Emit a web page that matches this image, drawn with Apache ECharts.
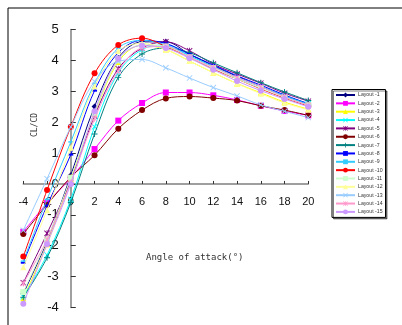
<!DOCTYPE html>
<html>
<head>
<meta charset="utf-8">
<script src="https://cdn.jsdelivr.net/npm/echarts@6/dist/echarts.min.js"></script>
<style>html,body{margin:0;padding:0;background:#fff;}#c{width:402px;height:325px;}</style>
</head>
<body>
<div id="c"></div>
<script>
var angles = [-4, -2, 0, 2, 4, 6, 8, 10, 12, 14, 16, 18, 20];
var seriesNames = ['Layout -1','Layout -2','Layout -3','Layout -4','Layout -5','Layout -6','Layout -7','Layout -8','Layout -9','Layout -10','Layout -11','Layout -12','Layout -13','Layout -14','Layout -15'];
var layout1  = [-3.55, -1.85, 0.28, 2.51, 4.08, 4.60, 4.60, 4.20, 3.82, 3.48, 3.15, 2.85, 2.58];
var layout2  = [-1.55, -0.62, 0.19, 1.13, 2.05, 2.62, 2.96, 2.96, 2.87, 2.72, 2.53, 2.36, 2.22];
var layout3  = [-3.70, -1.95, 0.15, 2.27, 3.95, 4.50, 4.35, 3.98, 3.60, 3.25, 2.95, 2.65, 2.42];
var layout4  = [-3.65, -2.30, -0.50, 1.85, 3.60, 4.35, 4.50, 4.15, 3.80, 3.45, 3.15, 2.85, 2.60];
var layout5  = [-3.20, -1.60, 0.10, 2.20, 3.73, 4.40, 4.60, 4.31, 3.88, 3.56, 3.26, 2.94, 2.68];
var layout6  = [-1.62, -0.67, 0.22, 0.93, 1.79, 2.39, 2.77, 2.83, 2.78, 2.70, 2.53, 2.39, 2.22];
var layout7  = [-3.67, -2.39, -0.60, 1.62, 3.45, 4.21, 4.40, 4.25, 3.92, 3.60, 3.28, 2.98, 2.70];
var layout8  = [-2.55, -0.70, 0.95, 3.02, 4.25, 4.65, 4.55, 4.20, 3.85, 3.50, 3.20, 2.88, 2.60];
var layout9  = [-2.50, -0.50, 1.36, 3.25, 4.40, 4.65, 4.50, 4.15, 3.80, 3.45, 3.15, 2.85, 2.58];
var layout10 = [-2.35, -0.20, 1.85, 3.58, 4.50, 4.72, 4.45, 4.10, 3.72, 3.40, 3.08, 2.78, 2.52];
var layout11 = [-3.50, -1.80, 0.20, 2.30, 4.00, 4.50, 4.45, 4.10, 3.75, 3.40, 3.10, 2.80, 2.55];
var layout12 = [-2.70, -0.85, 1.17, 3.16, 4.30, 4.55, 4.35, 3.98, 3.60, 3.25, 2.92, 2.62, 2.40];
var layout13 = [-1.50, 0.17, 1.85, 3.32, 3.97, 4.03, 3.76, 3.43, 3.12, 2.85, 2.56, 2.35, 2.15];
var layout14 = [-3.22, -1.80, 0.05, 2.11, 3.65, 4.40, 4.45, 4.10, 3.78, 3.45, 3.15, 2.82, 2.55];
var layout15 = [-3.88, -1.95, 0.00, 2.35, 4.05, 4.48, 4.40, 4.07, 3.70, 3.33, 3.02, 2.75, 2.50];
var xTickLabels = ['-4','-2','0','2','4','6','8','10','12','14','16','18','20'];
var yTickLabels = ['-4','-3','-2','-1','0','1','2','3','4','5'];

var allValues = [layout1,layout2,layout3,layout4,layout5,layout6,layout7,layout8,layout9,layout10,layout11,layout12,layout13,layout14,layout15];
var colors = ['#000080','#FF00FF','#FFFF00','#00FFFF','#800080','#800000','#008080','#0000FF','#33CCFF','#FF0000','#CCFFCC','#FFFF99','#99CCFF','#FF99CC','#CC99FF'];
var X = 'path://M0,1L1,0L5,4L9,0L10,1L6,5L10,9L9,10L5,6L1,10L0,9L4,5Z';
var AST = 'path://M0,1L1,0L4.3,3.3L4.3,0L5.7,0L5.7,3.3L9,0L10,1L6,5L10,9L9,10L5.7,6.7L5.7,10L4.3,10L4.3,6.7L1,10L0,9L4,5Z';
var PLUS = 'path://M4.2,0L5.8,0L5.8,4.2L10,4.2L10,5.8L5.8,5.8L5.8,10L4.2,10L4.2,5.8L0,5.8L0,4.2L4.2,4.2Z';
var symbols = ['diamond','rect','triangle',X,AST,'circle',PLUS,'rect','rect','circle','rect','triangle',X,AST,'circle'];
var sizes = [6,6,6,6,6,6,6,[5,2],[5,1.5],6,6,6,6,6,6];

var series = allValues.map(function(vals, i){
  return {
    name: seriesNames[i],
    type: 'line',
    smooth: 0.35,
    data: angles.map(function(a, j){ return [a, vals[j]]; }),
    symbol: symbols[i],
    symbolSize: sizes[i],
    showSymbol: true,
    lineStyle: {color: colors[i], width: 1},
    itemStyle: {color: colors[i]},
    z: 2 + i
  };
});

var gridLeft = 23.3, gridRight = 93.7, gridTop = 29.5, gridBottom = 17.5;
var W = 402, H = 325;
var plotW = W - gridLeft - gridRight, plotH = H - gridTop - gridBottom;
// shift axes so that they cross at zero
var xAxisOffset = -plotH * (0 - (-4)) / (5 - (-4));
var yAxisOffset = -plotW * (0 - (-4)) / (20 - (-4));

var chart = echarts.init(document.getElementById('c'));
chart.setOption({
  animation: false,
  backgroundColor: '#fff',
  grid: {left: gridLeft, right: gridRight, top: gridTop, bottom: gridBottom, containLabel: false},
  xAxis: {
    type: 'value', min: -4, max: 20, interval: 2, position: 'bottom', offset: xAxisOffset,
    axisLine: {onZero: false, lineStyle: {color: '#808080', width: 1.5}},
    axisTick: {inside: true, length: 3, lineStyle: {color: '#333'}},
    axisLabel: {margin: 13, fontSize: 11, color: '#111', fontFamily: 'Liberation Sans, Arial',
      formatter: function(v){ var k = angles.indexOf(v); return k >= 0 ? xTickLabels[k] : ''; }},
    splitLine: {show: false}
  },
  yAxis: {
    type: 'value', min: -4, max: 5, interval: 1, position: 'left', offset: yAxisOffset,
    axisLine: {onZero: false, lineStyle: {color: '#808080', width: 1.5}},
    axisTick: {inside: true, length: 5, lineStyle: {color: '#333'}},
    axisLabel: {margin: 12, fontSize: 13, color: '#111', fontFamily: 'Liberation Sans, Arial', padding: [6,0,0,0],
      formatter: function(v){ var k = Math.round(v) + 4; return yTickLabels[k] || ''; }},
    splitLine: {show: false}
  },
  legend: {
    orient: 'vertical', left: 332, top: 89.5,
    data: seriesNames,
    itemWidth: 19, itemHeight: 6, itemGap: 3.35,
    padding: [3, 3, 3, 3],
    backgroundColor: '#fff', borderColor: '#000', borderWidth: 1,
    shadowColor: 'rgba(0,0,0,0.5)', shadowOffsetX: 1.5, shadowOffsetY: 1.5, shadowBlur: 0,
    textStyle: {fontSize: 5.2, color: '#333', fontFamily: 'Liberation Sans, Arial', padding: [0,0,0,-2]}
  },
  graphic: [
    {type: 'rect', shape: {x: 8, y: 8, width: 400, height: 330}, style: {fill: 'none', stroke: '#000', lineWidth: 1}, silent: true, z: 0},
    {type: 'text', left: 146, top: 253, style: {text: 'Angle of attack(°)', font: '9px "DejaVu Sans Mono"', fill: '#333'}},
    {type: 'text', x: 35, y: 125, rotation: Math.PI / 2, style: {text: 'CL/CD', font: '8px "DejaVu Sans Mono"', fill: '#333', align: 'center', verticalAlign: 'middle'}}
  ],
  series: series
});
</script>
</body>
</html>
